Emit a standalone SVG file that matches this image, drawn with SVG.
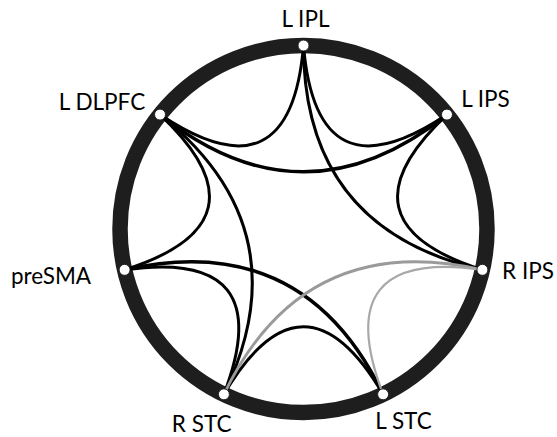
<svg xmlns="http://www.w3.org/2000/svg" width="557" height="437" viewBox="0 0 557 437">
<style>
.ring{fill:none;stroke:#1e1e1e;stroke-width:15.5}
.e{fill:none;stroke:#000;stroke-width:3;stroke-linecap:round}
.thick{stroke-width:3.5}
.g1{stroke:#9a9a9a;stroke-width:2.8}
.g2{stroke:#a8a8a8;stroke-width:2.2}
.node circle{fill:#fff;stroke:#1e1e1e;stroke-width:1}
.node text{font-family:Lato,"Liberation Sans",sans-serif;font-size:22.5px;fill:#000;text-anchor:middle}
</style>
<rect width="557" height="437" fill="#fff"/>
<circle class="ring" cx="303.5" cy="229" r="183.5"/>
<g id="connectors">
<path class="e" d="M303.5,45.5 Q290.48,201.97 160.03,114.59"/>
<path class="e" d="M303.5,45.5 Q316.52,201.97 446.97,114.59"/>
<path class="e" d="M446.97,114.59 Q332.75,222.32 482.4,269.83"/>
<path class="e" d="M223.88,394.33 Q303.5,259 383.12,394.33"/>
<path class="e" d="M124.6,269.83 Q280.05,247.7 223.88,394.33"/>
<path class="e" d="M160.03,114.59 Q274.25,222.32 124.6,269.83"/>
<path class="e" d="M303.5,45.5 Q303.5,229 482.4,269.83"/>
<path class="e thick" d="M160.03,114.59 Q303.5,229 446.97,114.59"/>
<path class="e" d="M160.03,114.59 Q303.5,229 223.88,394.33"/>
<path class="e thick" d="M124.6,269.83 Q303.5,229 383.12,394.33"/>
<path class="e g1" d="M223.88,394.33 Q303.5,229 482.4,269.83"/>
<path class="e g2" d="M482.4,269.83 Q326.95,247.7 383.12,394.33"/>
</g>
<g id="node-lipl" class="node"><circle cx="303.5" cy="45.5" r="5.5"/><text x="305.5" y="26.5">L IPL</text></g>
<g id="node-lips" class="node"><circle cx="446.97" cy="114.59" r="5.5"/><text x="485.5" y="106.7">L IPS</text></g>
<g id="node-rips" class="node"><circle cx="482.4" cy="269.83" r="5.5"/><text x="528" y="279">R IPS</text></g>
<g id="node-lstc" class="node"><circle cx="383.12" cy="394.33" r="5.5"/><text x="403.5" y="428.5">L STC</text></g>
<g id="node-rstc" class="node"><circle cx="223.88" cy="394.33" r="5.5"/><text x="201.7" y="432">R STC</text></g>
<g id="node-presma" class="node"><circle cx="124.6" cy="269.83" r="5.5"/><text x="51" y="283.5">preSMA</text></g>
<g id="node-ldlpfc" class="node"><circle cx="160.03" cy="114.59" r="5.5"/><text x="102" y="109.5">L DLPFC</text></g>
</svg>
